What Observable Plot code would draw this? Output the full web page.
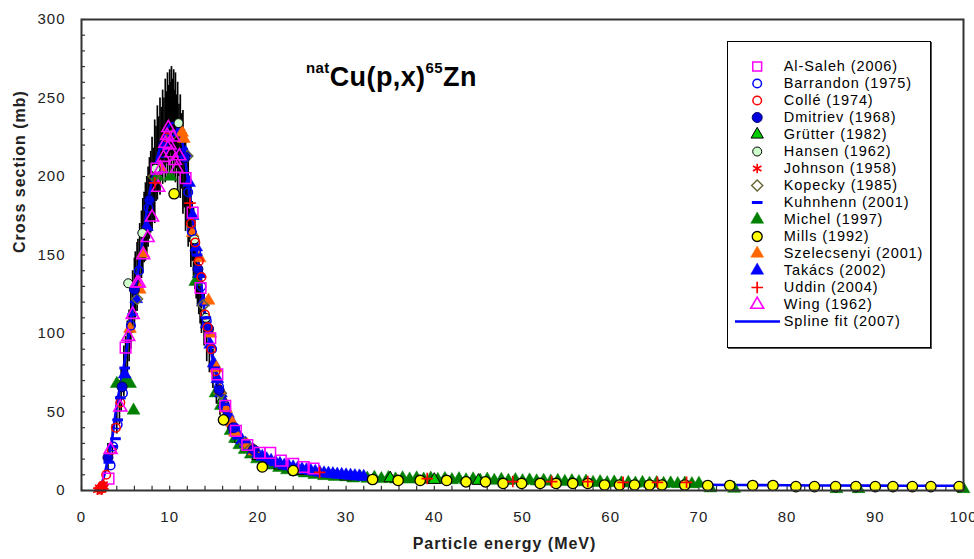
<!DOCTYPE html>
<html>
<head>
<meta charset="utf-8">
<script src="https://cdn.jsdelivr.net/npm/d3@7"></script>
<script src="https://cdn.jsdelivr.net/npm/@observablehq/plot@0.6"></script>
<style>
  body { margin: 0; background: #fff; }
  #wrap { position: relative; width: 974px; height: 559px; font-family: "Liberation Sans", Arial, sans-serif; }
  #title { position: absolute; left: 306px; top: 64px; font-weight: bold; font-size: 27px; line-height: 27px; letter-spacing: 0.4px; color: #000; white-space: nowrap; }
  #title span.sup { font-size: 15px; position: relative; top: -13px; }
  #legend { position: absolute; left: 727px; top: 41px; border: 1px solid #000; box-shadow: 1px 1px 0 #555; background: #fff; }
</style>
</head>
<body>
<div id="wrap">
  <div id="title"><span class="sup">nat</span>Cu(p,x)<span class="sup">65</span>Zn</div>
  <div id="legend"></div>
</div>
<script>
// ---------- tick labels ----------
const xTicks = [0, 10, 20, 30, 40, 50, 60, 70, 80, 90, 100];
const yTicks = [0, 50, 100, 150, 200, 250, 300];
const xMinor = [0,2,4,6,8,10,12,14,16,18,20,22,24,26,28,30,32,34,36,38,40,42,44,46,48,50,52,54,56,58,60,62,64,66,68,70,72,74,76,78,80,82,84,86,88,90,92,94,96,98,100];
const yMinor = [0,10,20,30,40,50,60,70,80,90,100,110,120,130,140,150,160,170,180,190,200,210,220,230,240,250,260,270,280,290,300];

// ---------- series names ----------
const names = ["Al-Saleh (2006)", "Barrandon (1975)", "Collé (1974)", "Dmitriev (1968)", "Grütter (1982)",
  "Hansen (1962)", "Johnson (1958)", "Kopecky (1985)", "Kuhnhenn (2001)", "Michel (1997)", "Mills (1992)",
  "Szelecsenyi (2001)", "Takács (2002)", "Uddin (2004)", "Wing (1962)", "Spline fit (2007)"];

// ---------- data: [energy MeV, cross section mb] ----------
const alSaleh = [[3.06,7.6],[5.0,91],[8.5,205],[11.8,199],[12.6,177],[13.5,129],[14.6,97],[15.4,74],[16.3,54],[17.5,38],[18.8,29],[20.2,24],[21.4,24],[22.6,19],[24.0,17],[25.2,15],[26.3,14]];
const barrandon = [[3.3,16],[3.6,28],[4.1,42],[4.7,62],[5.6,105],[6.5,140],[7.6,180],[9.2,215],[11.3,215],[12.1,190],[12.5,165],[13.0,152],[13.6,130],[14.2,108],[14.8,90],[15.6,66],[16.4,52],[17.4,40]];
const colle = [[2.4,3],[2.8,10],[3.4,26],[3.9,40],[4.4,56],[9.6,225],[12.4,170],[12.9,158],[13.3,146],[13.6,136],[14.0,112],[14.3,104],[14.7,90],[15.2,76]];
const dmitriev = [[3.0,21],[4.6,66],[6.0,128],[7.7,185],[9.3,220],[11.7,212],[13.2,141],[14.4,103],[15.6,64],[17.2,40],[19.5,26]];
const grutter = [[16.0,58],[18.0,33],[20.0,22],[22.5,16],[25.0,12.5],[30.0,9],[35.0,7.8],[40.0,6.8],[45.0,6.2]];
const hansen = [[5.3,132],[6.9,164],[8.4,205],[11.0,234],[12.8,160],[14.1,110]];
const johnson = [[1.8,0.2],[1.95,0.5],[2.05,0.8],[2.15,1.2],[2.2,1.8],[2.3,2.5],[2.35,0.5],[2.4,3.2],[2.5,4],[2.25,0.2],[2.45,1.5],[2.6,2.2],[2.0,2.0]];
const kopecky = [[6.3,122],[8.2,200],[10.2,226],[12.0,213],[13.8,118],[15.8,62],[18.5,30]];
const kuhnhenn = [[3.1,18],[3.5,28],[3.85,33],[4.1,45],[4.4,59],[4.9,78],[5.8,112],[13.1,150],[14.1,110],[15.1,78],[16.2,55],[17.3,40],[18.5,31],[20,23],[22,17],[25,13],[28,10.5],[31,9]];
const michel = [[4.0,68],[5.0,70],[5.5,68],[5.9,51],[8.6,200],[10.1,200],[12.9,133],[13.3,138],
  [15.2,62],[15.8,54],[16.3,46],[16.9,38],[17.4,33],[17.9,29],[18.5,26],[19.2,23],[19.9,20],[20.7,18],[21.5,16],[22.4,14.5],[23.3,13],[24.3,12],[25.3,11],[26.4,10],[27.5,9.3],[28.7,8.8],
  [30.0,8.6],[30.8,7.8],[31.6,8.4],[32.4,7.6],[33.2,8.2],[34.0,7.4],[34.8,8.0],[35.6,7.2],[36.4,7.9],[37.2,7.1],[38.0,7.8],[38.8,7.0],[39.6,7.6],[40.4,6.8],[41.2,7.4],[42.0,6.7],[42.8,7.3],[43.6,6.6],
  [44.4,7.2],[45.2,6.4],[46.0,7.0],[46.8,6.3],[47.6,6.8],[48.4,6.2],[49.2,6.7],[50.0,6.0],[50.8,6.5],[51.6,5.9],[52.4,6.3],[53.2,5.8],[54.0,6.2],[54.8,5.6],[55.6,6.0],[56.4,5.4],[57.2,5.8],
  [58.0,5.0],[58.8,5.4],[59.6,4.8],[60.4,5.2],[61.2,4.6],[62.0,5.0],[62.8,4.5],[63.6,4.9],[64.4,4.4],[65.2,4.8],[66.0,4.3],[66.8,4.6],[67.6,4.2],[68.4,4.5],[69.2,4.1],[70.0,4.4],
  [71.3,1.5],[74.0,1.2],[85.6,1.0],[88.1,1.0],[100,1.0]];
const mills = [[10.5,189],[16.1,45],[20.5,15],[24.0,12.7],[33.0,7],[35.9,6.4],[38.4,6.4],[41.4,6.4],[43.6,5.5],[45.8,5.5],[47.8,4.5],[49.9,4.5],[52.0,4.5],[53.8,4.5],[55.7,4.5],[57.4,4.5],
  [59.3,3.5],[61.0,3.5],[62.7,3.5],[64.4,3.5],[65.8,3.5],[68.4,3.5],[71.0,3.2],[73.5,3.2],[76.1,3.2],[78.4,3.2],[81.0,2.5],[83.1,2.5],[85.5,2.5],[87.8,2.5],[90.0,2.5],[92.0,2.5],[94.2,2.5],[96.3,2.5],[99.5,2.5]];
const szelecsenyi = [[5.5,103],[6.6,128],[7.0,151],[8.9,206],[11.4,228],[11.6,224],[12.6,164],[13.4,148],[14.4,121],[14.6,100],[15.3,78],[15.7,64],[16.4,52],[17.1,43],[17.4,37],[18.8,29],[19.6,25]];
const takacs = [[4.9,74],[6.2,122],[7.4,168],[8.6,205],[9.8,225],[11.0,228],[11.8,215],[12.2,196],[12.6,175],[13.0,155],[13.4,138],[13.8,120],[14.2,106],[14.6,93],[15.0,81],[15.4,71],[15.8,62],
  [16.2,55],[16.6,49],[17.0,44],[17.4,39],[17.8,35],[18.2,32],[18.6,30],[19.0,28],[19.5,25.5],[20.0,23.5],[20.5,21.5],[21.0,20],[21.5,19],[22.0,18],[22.5,17],[23.0,16],[23.5,15.5],[24.0,14.8],
  [24.5,14],[25.0,13.5],[25.5,13],[26.0,12.5],[26.5,12],[27.0,11.5],[27.5,11],[28.0,10.8],[28.5,10.5],[29.0,10.2],[29.5,10],[30.0,9.7],[30.5,9.5],[31.0,9.2],[31.5,9],[32.0,8.8]];
const uddin = [[8.3,196],[12.3,183],[27.0,11.5],[39.2,7.6],[48.9,5.7],[53.3,5.7],[57.4,5.7],[61.4,5.2],[65.3,5.2],[68.6,5.2]];
const wing = [[3.3,26],[4.4,53],[5.3,98],[5.8,112],[6.3,132],[6.5,132],[7.0,150],[7.5,161],[8.0,174],[8.7,193],[9.0,205],[9.3,212],[9.5,221],[9.7,226],[9.85,231],[10.0,220],[10.2,215],[10.4,225],[10.6,210],[10.8,205],[11.1,213]];

// spline fit
const splineE = [2,2.5,3,3.5,4,4.5,5,5.5,6,6.5,7,7.5,8,8.5,9,9.5,10,10.5,11,11.5,12,12.5,13,13.5,14,14.5,15,15.5,16,16.5,17,17.5,18,19,20,21,22,23,24,25,26,27,28,29,30,32,35,40,45,50,55,60,65,70,75,80,85,90,95,100];
const splineS = [0,8,20,34,55,70,86,105,125,143,162,182,198,210,220,228,233,234,230,220,200,178,155,135,113,95,80,68,58,49,42,37,33,27,22.5,19.5,17,15.5,14,12.8,11.8,11,10.3,9.7,9.2,8.5,7.7,6.8,6.1,5.6,5.1,4.7,4.3,3.7,3.5,3.3,3.2,3.1,3.05,3.0];

// error bars: [energy, lower, upper]
const errorBars = [[3.0,12,30],[3.5,22,42],[4.0,36,60],[4.3,42,70],[4.5,50,78],[4.8,60,92],[5.0,68,98],[5.2,72,108],[5.4,82,115],[5.6,90,128],[5.8,100,140],[6.0,104,148],[6.1,110,152],[6.3,114,158],
  [6.4,120,160],[6.6,126,170],[6.8,135,178],[6.95,138,186],[7.1,145,190],[7.25,146,196],[7.4,150,200],[7.55,155,206],[7.7,160,212],[7.85,164,216],
  [8.0,165,225],[8.15,172,218],[8.3,170,236],[8.45,184,232],[8.6,185,245],[8.75,190,238],[8.9,188,250],[9.05,200,244],[9.2,195,255],[9.35,205,250],
  [9.5,196,262],[9.6,208,254],[9.75,198,266],[9.85,212,258],[10.0,202,268],[10.1,215,260],[10.2,200,270],[10.3,212,262],[10.45,198,268],[10.55,210,255],
  [10.65,196,266],[10.8,205,252],[10.9,190,260],[11.05,200,246],[11.2,186,252],[11.35,192,240],[11.5,176,242],[11.65,180,230],[11.8,165,228],[11.95,170,218],
  [12.1,155,212],[12.25,158,200],[12.4,142,195],[12.55,146,184],[12.7,135,180],[12.85,128,172],[13.0,122,165],[13.15,117,158],
  [13.3,112,150],[13.45,106,144],[13.6,100,138],[13.9,92,125],[14.2,82,112],[14.5,75,100],[14.9,65,90],[15.3,55,78],[15.7,48,66],[16.1,42,56],[16.6,36,48],[17.1,30,42],[17.7,27,37],[18.3,24,32],
  [19.0,21,28],[19.8,18,25],[20.7,16,22],[21.8,14,19],[23.0,12,16],[24.5,10.5,14],[26.0,9.5,12.5],[28.0,8.5,11],[30.0,7.5,10]];

// ---------- styles ----------
const dash = { draw(ctx, size) { const w = Math.sqrt(size) * 0.7; ctx.moveTo(-w, 0); ctx.lineTo(w, 0); } };
const styles = {
  "Al-Saleh (2006)":   {data: alSaleh, symbol: "square", fill: "none", stroke: "#FF00FF", r: 6, sw: 1.5},
  "Barrandon (1975)":  {data: barrandon, symbol: "circle", fill: "none", stroke: "#0000FF", r: 4.3, sw: 1.5},
  "Collé (1974)":      {data: colle, symbol: "circle", fill: "none", stroke: "#FF0000", r: 4.3, sw: 1.5},
  "Dmitriev (1968)":   {data: dmitriev, symbol: "circle", fill: "#0000DD", stroke: "#000066", r: 5, sw: 1},
  "Grütter (1982)":    {data: grutter, symbol: "triangle", fill: "#00CC00", stroke: "#000", r: 4.6, sw: 1},
  "Hansen (1962)":     {data: hansen, symbol: "circle", fill: "#CCFFCC", stroke: "#000", r: 4.5, sw: 1},
  "Johnson (1958)":    {data: johnson, symbol: "asterisk", fill: "none", stroke: "#FF0000", r: 4.6, sw: 1.6},
  "Kopecky (1985)":    {data: kopecky, symbol: "diamond2", fill: "none", stroke: "#666633", r: 5, sw: 1.4},
  "Kuhnhenn (2001)":   {data: kuhnhenn, symbol: dash, fill: "none", stroke: "#0000FF", r: 4.3, sw: 3},
  "Michel (1997)":     {data: michel, symbol: "triangle", fill: "#008000", stroke: "#008000", r: 4.8, sw: 0.5},
  "Mills (1992)":      {data: mills, symbol: "circle", fill: "#FFFF00", stroke: "#000", r: 5.2, sw: 1.3},
  "Szelecsenyi (2001)":{data: szelecsenyi, symbol: "triangle", fill: "#FF6600", stroke: "#FF6600", r: 4.8, sw: 0.5},
  "Takács (2002)":     {data: takacs, symbol: "triangle", fill: "#0000FF", stroke: "#0000FF", r: 4.8, sw: 0.5},
  "Uddin (2004)":      {data: uddin, symbol: "plus", fill: "none", stroke: "#FF0000", r: 3.8, sw: 1.7},
  "Wing (1962)":       {data: wing, symbol: "triangle", fill: "none", stroke: "#FF00FF", r: 4.8, sw: 1.6}
};
const drawOrder = ["Michel (1997)", "Grütter (1982)", "Takács (2002)", "Szelecsenyi (2001)", "Kopecky (1985)", "Hansen (1962)",
  "Dmitriev (1968)", "Barrandon (1975)", "Collé (1974)", "Kuhnhenn (2001)", "Al-Saleh (2006)", "Wing (1962)",
  "Mills (1992)", "Uddin (2004)", "Johnson (1958)"];

const font = '"Liberation Sans", Arial, sans-serif';
const spline = splineE.map((e, i) => ({e, s: splineS[i]}));

const seriesMarks = drawOrder.map(n => {
  const st = styles[n];
  return Plot.dot(st.data, {x: d => d[0], y: d => d[1], symbol: st.symbol, fill: st.fill, stroke: st.stroke, r: st.r, strokeWidth: st.sw});
});

const chart = Plot.plot({
  width: 974, height: 559,
  marginLeft: 81, marginRight: 11, marginTop: 19, marginBottom: 69,
  x: {domain: [0, 100]},
  y: {domain: [0, 300]},
  style: {fontFamily: font, fontSize: "15px", color: "#222", background: "white", letterSpacing: "1px"},
  marks: [
    Plot.ruleX(xMinor, {x: d => d, y1: 0, y2: 2.7, stroke: "#333", strokeWidth: 1.2}),
    Plot.ruleY(yMinor, {y: d => d, x1: 0, x2: 0.45, stroke: "#333", strokeWidth: 1.2}),
    Plot.ruleX(errorBars, {x: d => d[0], y1: d => d[1], y2: d => d[2], stroke: "#000", strokeWidth: 1.7}),
    Plot.line(spline, {x: "e", y: "s", stroke: "#0000FF", strokeWidth: 2.6, curve: "catmull-rom"}),
    ...seriesMarks,
    Plot.axisX({ticks: xTicks, tickSize: 0, tickPadding: 21, fontSize: 15, label: null}),
    Plot.axisY({ticks: yTicks, tickSize: 0, tickPadding: 16, fontSize: 15, label: null}),
    Plot.text(["Particle energy (MeV)"], {frameAnchor: "bottom", dx: -18, dy: 58, fontWeight: "bold", fontSize: 16, fill: "#222"}),
    Plot.text(["Cross section (mb)"], {frameAnchor: "left", dx: -62, dy: -2, rotate: -90, fontWeight: "bold", fontSize: 16, fill: "#222"}),
    Plot.frame({stroke: "#333", strokeWidth: 2})
  ]
});
document.getElementById("wrap").insertBefore(chart, document.getElementById("title"));

// ---------- legend ----------
const legendMarks = [];
names.slice(0, 15).forEach(n => {
  const st = styles[n];
  legendMarks.push(Plot.dot([n], {y: d => d, frameAnchor: "left", dx: 28.7, symbol: st.symbol, fill: st.fill, stroke: st.stroke, r: Math.min(st.r, 5), strokeWidth: st.sw}));
});
legendMarks.push(Plot.ruleY([names[15]], {y: d => d, insetLeft: 7, insetRight: 150, stroke: "#0000FF", strokeWidth: 2.6}));
legendMarks.push(Plot.text(names, {y: d => d, text: d => d, frameAnchor: "left", dx: 55.3, textAnchor: "start", fontSize: 14.5, fill: "#000"}));

const legend = Plot.plot({
  width: 202, height: 305,
  margin: 0,
  y: {type: "point", domain: names, range: [11.3, 291.3], axis: null},
  style: {fontFamily: font, fontSize: "14px", background: "white", letterSpacing: "0.9px"},
  marks: legendMarks
});
document.getElementById("legend").appendChild(legend);
</script>
</body>
</html>
